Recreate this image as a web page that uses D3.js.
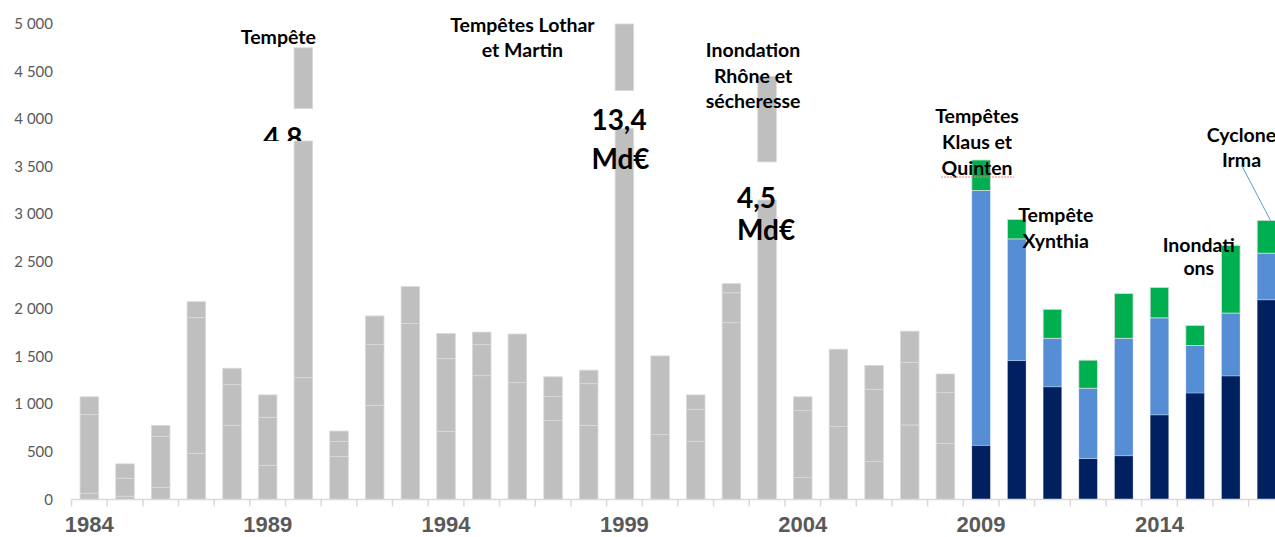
<!DOCTYPE html>
<html>
<head>
<meta charset="utf-8">
<script src="https://cdn.jsdelivr.net/npm/d3@7"></script>
<style>
  body { margin: 0; background: #fff; }
  svg { display: block; overflow: hidden; }
  .ylab { font-family: Lato, "Open Sans", sans-serif; font-size: 15px; fill: #595959; }
  .xlab { font-family: "Liberation Sans", Arial, sans-serif; font-size: 22px; font-weight: bold; fill: #595959; }
  .note { font-family: Lato, sans-serif; font-weight: bold; fill: #000; }
</style>
</head>
<body>
<svg id="chart"></svg>
<script>
// years 1984-2008 : grey bars (three stacked parts, no detail available)
const greyYears = [1984, 1985, 1986, 1987, 1988, 1989, 1990, 1991, 1992, 1993, 1994, 1995, 1996,
                   1997, 1998, 1999, 2000, 2001, 2002, 2003, 2004, 2005, 2006, 2007, 2008];
const greyA = [66, 35, 126, 486, 777, 357, 1281, 452, 990, 1852, 714, 1302, 1229,
               830, 777, 13400, 683, 609, 1859, 4500, 231, 767, 399, 784, 588];
const greyB = [827, 189, 539, 1426, 431, 507, 0, 157, 641, 0, 767, 326, 0,
               252, 441, 0, 0, 336, 315, 0, 704, 0, 760, 658, 536];
const greyC = [187, 151, 115, 168, 172, 236, 3519, 111, 299, 388, 264, 132, 511,
               208, 142, 0, 827, 155, 96, 0, 145, 813, 251, 328, 196];

// years 2009-2017 : coloured stacks
const colYears = [2009, 2010, 2011, 2012, 2013, 2014, 2015, 2016, 2017];
const navy  = [570, 1460, 1185, 430, 460, 890, 1120, 1300, 2100];
const blue  = [2680, 1280, 510, 740, 1235, 1020, 500, 660, 490];
const green = [320, 205, 305, 295, 470, 320, 210, 710, 345];

// bars too tall for the axis: cut, gap, then top stub
const breakYears  = [1990, 1999, 2003];
const breakCut    = [3770, 3900, 3150];
const breakResume = [4110, 4300, 3550];
const breakTop    = [4750, 5000, 4450];

const yTicks = [0, 500, 1000, 1500, 2000, 2500, 3000, 3500, 4000, 4500, 5000];
const xLabels = [1984, 1989, 1994, 1999, 2004, 2009, 2014];

const W = 1275, H = 537;
const svg = d3.select("#chart").attr("width", W).attr("height", H);

const years = greyYears.concat(colYears);
const x = d3.scaleBand(years, [71.5, 1284.3]).paddingInner(0.48).paddingOuter(0.24);
const y = d3.scaleLinear([0, 5000], [499.5, 24]);
const bw = x.bandwidth(), step = x.step();
const cx = yr => x(yr) + bw / 2;

// rows for the stack
const rows = years.map(yr => {
  const gi = greyYears.indexOf(yr), ci = colYears.indexOf(yr);
  return {
    year: yr,
    gA: gi >= 0 ? greyA[gi] : 0, gB: gi >= 0 ? greyB[gi] : 0, gC: gi >= 0 ? greyC[gi] : 0,
    navy: ci >= 0 ? navy[ci] : 0, blue: ci >= 0 ? blue[ci] : 0, green: ci >= 0 ? green[ci] : 0
  };
});
const keys = ["gA", "gB", "gC", "navy", "blue", "green"];
const fills = { gA: "#bfbfbf", gB: "#bfbfbf", gC: "#bfbfbf", navy: "#00205f", blue: "#558ed5", green: "#00b050" };
const series = d3.stack().keys(keys)(rows);

// y axis labels
const fmt = d3.formatLocale({ decimal: ",", thousands: " ", grouping: [3], currency: ["", "€"] }).format(",d");
svg.append("g").selectAll("text").data(yTicks).join("text")
  .attr("class", "ylab")
  .attr("x", 53).attr("y", d => y(d) + 5)
  .attr("text-anchor", "end")
  .text(fmt);

// "4,8" label, cut at the bar break
svg.append("clipPath").attr("id", "cut48")
  .append("rect").attr("x", 0).attr("y", 0).attr("width", W).attr("height", y(breakCut[0]));

// bars
const cutOf = yr => { const i = breakYears.indexOf(yr); return i >= 0 ? breakCut[i] : Infinity; };
svg.append("g").selectAll("g").data(series).join("g")
  .attr("fill", d => fills[d.key])
  .attr("stroke", d => d.key[0] === "g" ? "#dadada" : "rgba(255,255,255,0.35)")
  .attr("stroke-width", 0.8)
  .selectAll("rect")
  .data(d => d.filter(s => s[1] - s[0] > 0))
  .join("rect")
  .attr("x", d => x(d.data.year))
  .attr("width", bw)
  .attr("y", d => y(Math.min(d[1], cutOf(d.data.year))))
  .attr("height", d => Math.max(0, y(d[0]) - y(Math.min(d[1], cutOf(d.data.year)))));

// upper stubs of broken bars
svg.append("g").selectAll("rect").data(breakYears).join("rect")
  .attr("x", d => x(d)).attr("width", bw)
  .attr("y", (d, i) => y(breakTop[i]))
  .attr("height", (d, i) => y(breakResume[i]) - y(breakTop[i]))
  .attr("fill", "#bfbfbf").attr("stroke", "#dadada").attr("stroke-width", 0.8);

// x axis: line, boundary ticks, labels
const axisY = y(0);
svg.append("line").attr("x1", x(1984) - step * 0.24).attr("x2", W)
  .attr("y1", axisY).attr("y2", axisY).attr("stroke", "#d9d9d9").attr("stroke-width", 1.5);
svg.append("g").selectAll("line").data(years).join("line")
  .attr("x1", d => x(d) - step * 0.24).attr("x2", d => x(d) - step * 0.24)
  .attr("y1", axisY).attr("y2", axisY + 7)
  .attr("stroke", "#d9d9d9").attr("stroke-width", 1.5);
svg.append("g").selectAll("text").data(xLabels).join("text")
  .attr("class", "xlab")
  .attr("x", d => cx(d)).attr("y", 532)
  .attr("text-anchor", "middle")
  .text(d => d);

// annotations
function note(lines, px, baselines, size, anchor, clip) {
  const t = svg.append("text").attr("class", "note")
    .attr("font-size", size).attr("text-anchor", anchor);
  if (clip) t.attr("clip-path", "url(#" + clip + ")");
  lines.forEach((l, i) => t.append("tspan").attr("x", px).attr("y", baselines[i]).text(l));
  return t;
}
const fs = 19.5;
note(["Tempête"], cx(1990) - 25, [44], fs, "middle");
note(["4,8"], cx(1990) - 40, [148], 28, "start", "cut48");
note(["Tempêtes Lothar", "et Martin"], cx(1999) - 102, [32, 57], fs, "middle");
note(["13,4", "Md€"], cx(1999) - 33, [130, 169], 28, "start");
note(["Inondation", "Rhône et", "sécheresse"], cx(2003) - 14, [57, 83, 108], fs, "middle");
note(["4,5", "Md€"], cx(2003) - 30, [208, 240], 28, "start");
note(["Tempêtes", "Klaus et", "Quinten"], cx(2009) - 4, [123, 149, 175], fs, "middle");
note(["Tempête", "Xynthia"], cx(2010) + 39, [222, 248], fs, "middle");
note(["Inondati", "ons"], cx(2016) - 32, [252, 275], fs, "middle");
note(["Cyclone", "Irma"], cx(2017) - 25, [142, 167], fs, "middle");

// spell-check squiggle under "Quinten"
svg.append("line").attr("x1", cx(2009) - 40).attr("x2", cx(2009) + 33)
  .attr("y1", 177).attr("y2", 177)
  .attr("stroke", "#f08080").attr("stroke-width", 1).attr("stroke-dasharray", "2 1");

// leader line to the 2017 bar
const top2017 = navy[8] + blue[8] + green[8];
svg.append("line")
  .attr("x1", cx(2017) - 25).attr("y1", 165)
  .attr("x2", cx(2017) + 4).attr("y2", y(top2017))
  .attr("stroke", "#5b9bd5").attr("stroke-width", 1);
</script>
</body>
</html>
